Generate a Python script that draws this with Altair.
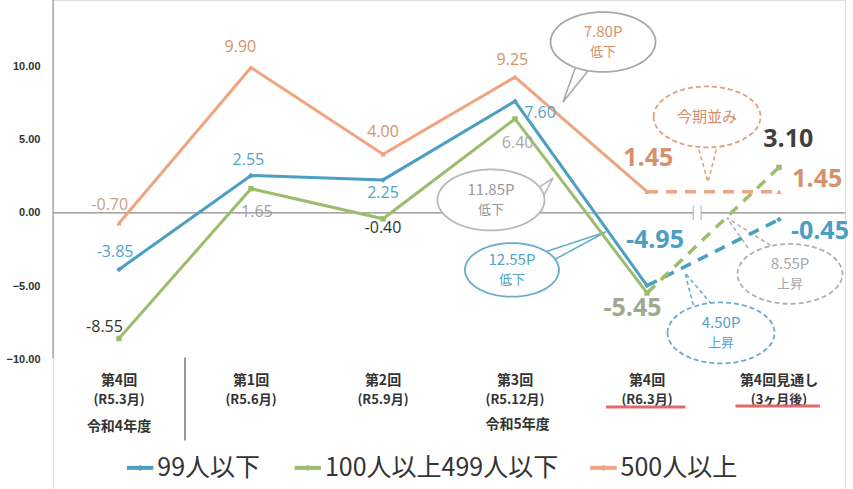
import altair as alt
import pandas as pd

# ---------------- data ----------------
row1 = ["第4回", "第1回", "第2回", "第3回", "第4回", "第4回見通し"]
row2 = ["(R5.3月)", "(R5.6月)", "(R5.9月)", "(R5.12月)", "(R6.3月)", "(3ヶ月後)"]
fiscal_years = ["令和4年度", "令和5年度"]
series_names = ["99人以下", "100人以上499人以下", "500人以上"]
small_vals = [-3.85, 2.55, 2.25, 7.60, -4.95]
medium_vals = [-8.55, 1.65, -0.40, 6.40, -5.45]
large_vals = [-0.70, 9.90, 4.00, 9.25, 1.45]
forecast_vals = [-0.45, 3.10, 1.45]
callout_line1 = ["7.80P", "今期並み", "11.85P", "12.55P", "8.55P", "4.50P"]
callout_line2 = ["低下", "", "低下", "低下", "上昇", "上昇"]

colors = ["#4b9fc2", "#9bbd6c", "#f0a47f"]
label_blue = "#4fa3cc"
label_orange = "#d4916c"
JP = "Noto Sans CJK JP"
NUM = "Open Sans"

XS = alt.Scale(domain=[-0.5, 5.5], nice=False, zero=False)
YS = alt.Scale(domain=[-18.8, 14.5], nice=False, zero=False)
YAXIS = alt.Axis(values=[-10, -5, 0, 5, 10], format=".2f", title=None, domain=False,
                 ticks=False, grid=False, labelFont="Liberation Sans", labelFontWeight="bold",
                 labelFontSize=11, labelColor="#333", labelPadding=13)


def X(field="x"):
    return alt.X(f"{field}:Q", scale=XS, axis=None)


def Y():
    return alt.Y("y:Q", scale=YS, axis=YAXIS)


all_series = [small_vals, medium_vals, large_vals]

actual = pd.DataFrame([
    {"x": i, "y": v, "s": series_names[k]}
    for k, vals in enumerate(all_series) for i, v in enumerate(vals)
])
fc = pd.DataFrame([
    {"x": i, "y": v, "s": series_names[k]}
    for k in range(3)
    for i, v in [(4, all_series[k][4]), (5, forecast_vals[k])]
])
cscale = alt.Scale(domain=series_names, range=colors)

layers = []

# axis lines: vertical and zero line
vline = pd.DataFrame({"x": [-0.5], "y": [14.5], "y2": [-9.9]})
layers.append(alt.Chart(vline).mark_rule(color="#9a9a9a", strokeWidth=1.2).encode(x=X(), y=Y(), y2="y2:Q"))
zline = pd.DataFrame({"x": [-0.5], "x2": [5.5], "y": [0]})
layers.append(alt.Chart(zline).mark_rule(color="#8a8a8a", strokeWidth=1.2).encode(x=X(), x2="x2:Q", y=Y()))
layers.append(alt.Chart(pd.DataFrame({"x": [4.35], "x2": [4.41], "y": [0]})).mark_rule(
    color="white", strokeWidth=3).encode(x=X(), x2="x2:Q", y=Y()))
brk = pd.DataFrame({"x": [4.35, 4.41], "y": [0.5, 0.5], "y2": [-0.5, -0.5]})
layers.append(alt.Chart(brk).mark_rule(color="#aaaaaa", strokeWidth=1).encode(x=X(), y=Y(), y2="y2:Q"))

# callouts
callout_cx = [3.667, 4.455, 2.818, 2.977, 5.083, 4.561]
callout_cy = [11.64, 6.54, 0.885, -3.88, -4.15, -8.17]
callout_w = [105, 107, 107, 94, 105, 107]
callout_dashed = [False, True, False, False, True, True]
callout_stroke = ["#a8a8a8", "#e0a07e", "#b8b8b8", "#6aaccb", "#b0b0b0", "#6aaccb"]
callout_text_color = [label_orange, label_orange, "#9a9a9a", label_blue, "#a8a8a8", label_blue]
tail_pts = [
    [(3.47, 10.21), (3.364, 7.56), (3.57, 9.87)],
    [(4.379, 4.77), (4.462, 2.11), (4.538, 4.77)],
    [(3.152, 1.57), (3.288, 2.38), (3.189, 0.68)],
    [(3.227, -2.66), (3.689, -1.29), (3.265, -3.34)],
    [(4.765, -2.38), (4.606, -0.34), (4.955, -2.32)],
    [(4.364, -6.74), (4.288, -4.09), (4.5, -6.33)],
]
tails = pd.DataFrame([
    {"x": px, "y": py, "c": i, "o": j, "col": callout_stroke[i], "d": callout_dashed[i]}
    for i, pts in enumerate(tail_pts) for j, (px, py) in enumerate(pts)
])
for dashed in [False, True]:
    layers.append(
        alt.Chart(tails[tails.d == dashed]).mark_line(
            strokeWidth=1.6, strokeDash=[4, 3] if dashed else [1, 0]
        ).encode(x=X(), y=Y(), detail="c:N", order="o:Q",
                 color=alt.Color("col:N", scale=None))
    )

# series lines (solid actual, dashed forecast)
layers.append(
    alt.Chart(actual).mark_line(strokeWidth=3).encode(
        x=X(), y=Y(), color=alt.Color("s:N", scale=cscale, legend=None), detail="s:N")
)
layers.append(
    alt.Chart(fc).mark_line(strokeWidth=3.5, strokeDash=[11, 8]).encode(
        x=X(), y=Y(), color=alt.Color("s:N", scale=cscale, legend=None), detail="s:N")
)
shapes = ["diamond", "square", "triangle-up"]
for k in range(3):
    pts = pd.concat([actual[actual.s == series_names[k]], fc[(fc.s == series_names[k]) & (fc.x == 5)]])
    layers.append(
        alt.Chart(pts).mark_point(filled=True, size=30, shape=shapes[k], opacity=1,
                                  color=colors[k]).encode(x=X(), y=Y())
    )

ell = "M-1,0 A1,0.57 0 1,1 1,0 A1,0.57 0 1,1 -1,0 Z"
cal = pd.DataFrame({
    "x": callout_cx, "y": callout_cy, "t1": callout_line1, "t2": callout_line2,
    "sz": [w * w for w in callout_w],
    "col": callout_stroke, "tc": callout_text_color, "d": callout_dashed,
})
for dashed in [False, True]:
    layers.append(
        alt.Chart(cal[cal.d == dashed]).mark_point(
            shape=ell, filled=False, fill="white", fillOpacity=1, strokeWidth=1.8,
            opacity=1, strokeDash=[5, 3] if dashed else [1, 0]
        ).encode(x=X(), y=Y(), size=alt.Size("sz:Q", scale=None),
                 stroke=alt.Stroke("col:N", scale=None))
    )
two_line = cal[cal.t2 != ""]
one_line = cal[cal.t2 == ""]
layers.append(
    alt.Chart(two_line).mark_text(font=JP, fontSize=15, baseline="middle", dy=-10).encode(
        x=X(), y=Y(), text="t1:N", color=alt.Color("tc:N", scale=None))
)
layers.append(
    alt.Chart(two_line).mark_text(font=JP, fontSize=13, baseline="middle", dy=10).encode(
        x=X(), y=Y(), text="t2:N", color=alt.Color("tc:N", scale=None))
)
layers.append(
    alt.Chart(one_line).mark_text(font=JP, fontSize=15, baseline="middle").encode(
        x=X(), y=Y(), text="t1:N", color=alt.Color("tc:N", scale=None))
)

# data labels (regular)
reg_dx = [[-0.03, -0.02, 0.0, 0.19],
          [-0.11, 0.045, 0.0, 0.02],
          [-0.07, -0.08, 0.0, -0.02]]
reg_dy = [[1.19, 1.06, -0.89, -0.79],
          [0.79, -1.58, -0.62, -1.63],
          [1.24, 1.4, 1.52, 1.17]]
reg_col = [[label_blue] * 4,
           ["#333333", "#a0a0a0", "#333333", "#a8a8a8"],
           ["#c9a088", label_orange, label_orange, label_orange]]
reg = pd.DataFrame([
    {"x": i + reg_dx[k][i], "y": all_series[k][i] + reg_dy[k][i],
     "t": f"{all_series[k][i]:.2f}", "c": reg_col[k][i]}
    for k in range(3) for i in range(4)
])
layers.append(
    alt.Chart(reg).mark_text(font=NUM, fontSize=16, baseline="middle").encode(
        x=X(), y=Y(), text="t:N", color=alt.Color("c:N", scale=None))
)

# bold labels (latest & forecast)
bold_x = [4.06, 3.89, 4.01, 5.31, 5.07, 5.29]
bold_y = [-1.84, -6.47, 3.75, -1.23, 5.04, 2.32]
bold_v = [small_vals[4], medium_vals[4], large_vals[4]] + forecast_vals
bold_c = ["#4a9ec4", "#9fa98f", label_orange, "#4a9ec4", "#404040", label_orange]
bold = pd.DataFrame({"x": bold_x, "y": bold_y, "t": [f"{v:.2f}" for v in bold_v], "c": bold_c})
layers.append(
    alt.Chart(bold).mark_text(font=NUM, fontSize=25, fontWeight="bold", baseline="middle").encode(
        x=X(), y=Y(), text="t:N", color=alt.Color("c:N", scale=None))
)

# category labels
cats = pd.DataFrame({"x": list(range(6)), "r1": row1, "r2": row2})
layers.append(alt.Chart(cats).transform_calculate(y="-11.44").mark_text(
    font=JP, fontSize=14, fontWeight="bold", color="#333", baseline="middle").encode(x=X(), y=Y(), text="r1:N"))
layers.append(alt.Chart(cats).transform_calculate(y="-12.73").mark_text(
    font=JP, fontSize=13, fontWeight="bold", color="#333", baseline="middle").encode(x=X(), y=Y(), text="r2:N"))
fy = pd.DataFrame({"x": [0.0, 3.02], "y": [-14.6, -14.45], "t": fiscal_years})
layers.append(alt.Chart(fy).mark_text(font=JP, fontSize=14, fontWeight="bold", color="#333",
                                      baseline="middle").encode(x=X(), y=Y(), text="t:N"))
sep = pd.DataFrame({"x": [0.5], "y": [-9.85], "y2": [-15.5]})
layers.append(alt.Chart(sep).mark_rule(color="#555", strokeWidth=1.2).encode(x=X(), y=Y(), y2="y2:Q"))
ul = pd.DataFrame({"x": [3.69, 4.67], "x2": [4.29, 5.31], "y": [-13.21, -13.15]})
layers.append(alt.Chart(ul).mark_rule(color="#e06a6a", strokeWidth=3).encode(x=X(), x2="x2:Q", y=Y()))

# legend
leg_x = [0.06, 1.33, 3.57]
leg = pd.DataFrame({"x": leg_x, "x2": [v + 0.2 for v in leg_x], "y": [-17.36] * 3,
                    "s": series_names, "tx": [v + 0.23 for v in leg_x],
                    "xm": [v + 0.1 for v in leg_x]})
layers.append(alt.Chart(leg).mark_rule(strokeWidth=4).encode(
    x=X(), x2="x2:Q", y=Y(), color=alt.Color("s:N", scale=cscale, legend=None)))
layers.append(alt.Chart(leg).mark_point(filled=True, size=40, shape="diamond", opacity=1).encode(
    x=X("xm"), y=Y(), color=alt.Color("s:N", scale=cscale, legend=None)))
layers.append(alt.Chart(leg).mark_text(font=JP, fontSize=25, color="#333", align="left",
                                       baseline="middle").encode(x=X("tx"), y=Y(), text="s:N"))

chart = alt.layer(*layers).properties(
    width=792, height=489,
    autosize=alt.AutoSizeParams(type="none"),
    padding={"left": 53, "right": 8, "top": 0, "bottom": 0},
).configure_view(stroke=None).configure(background="white")

chart.save("out.html", embed_options={"renderer": "svg", "actions": False})
